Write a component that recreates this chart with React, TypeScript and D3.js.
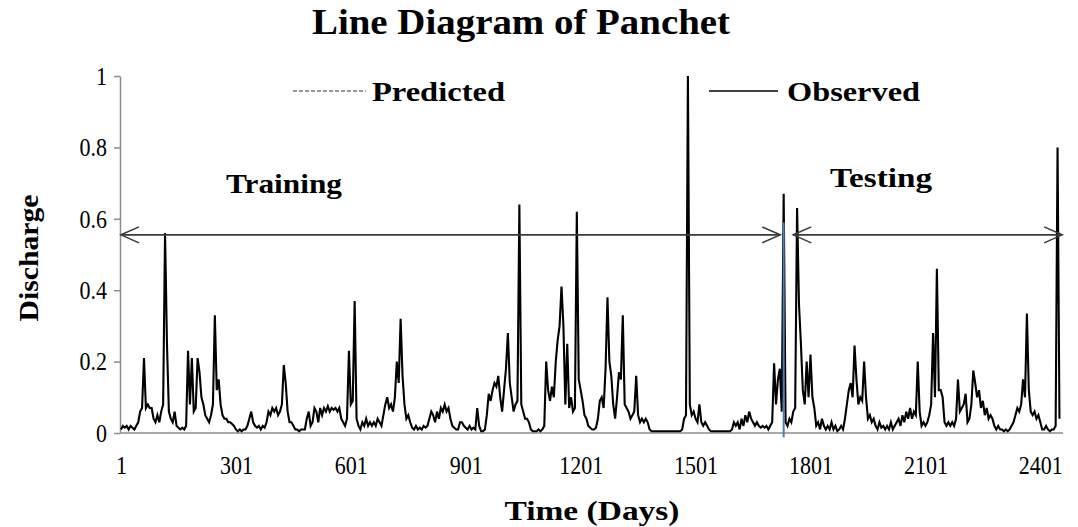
import React, { useEffect, useRef } from 'react';
import * as d3 from 'd3';

// observed discharge, one value every 5 days starting at day 1
const dayStep = 5;
const firstDay = 1;
const observed = [
	0.01, 0.02, 0.015, 0.02, 0.01, 0.02, 0.015, 0.01, 0.02, 0.03, 0.06, 0.07, 0.21, 0.07, 0.08, 0.07, 0.07, 0.04, 0.03, 0.05,
	0.03, 0.06, 0.08, 0.56, 0.25, 0.06, 0.04, 0.03, 0.06, 0.02, 0.015, 0.01, 0.015, 0.01, 0.02, 0.23, 0.08, 0.21, 0.06, 0.07,
	0.21, 0.17, 0.1, 0.08, 0.05, 0.04, 0.03, 0.05, 0.08, 0.33, 0.12, 0.15, 0.08, 0.05, 0.04, 0.04, 0.03, 0.03, 0.025, 0.02,
	0.01, 0.005, 0.01, 0.005, 0.01, 0.01, 0.02, 0.04, 0.06, 0.03, 0.02, 0.015, 0.02, 0.01, 0.02, 0.015, 0.03, 0.06, 0.05, 0.07,
	0.06, 0.07, 0.05, 0.06, 0.08, 0.19, 0.14, 0.06, 0.03, 0.03, 0.02, 0.01, 0.01, 0.005, 0.01, 0.01, 0.01, 0.04, 0.06, 0.02,
	0.03, 0.07, 0.06, 0.03, 0.07, 0.05, 0.07, 0.06, 0.075, 0.06, 0.07, 0.065, 0.07, 0.06, 0.07, 0.04, 0.03, 0.02, 0.04, 0.23,
	0.08, 0.09, 0.37, 0.04, 0.02, 0.01, 0.03, 0.02, 0.04, 0.02, 0.03, 0.02, 0.03, 0.02, 0.04, 0.03, 0.02, 0.05, 0.08, 0.1,
	0.07, 0.08, 0.06, 0.1, 0.2, 0.14, 0.32, 0.16, 0.08, 0.04, 0.05, 0.03, 0.015, 0.01, 0.02, 0.01, 0.015, 0.01, 0.02, 0.015,
	0.02, 0.04, 0.06, 0.05, 0.03, 0.06, 0.04, 0.07, 0.06, 0.08, 0.06, 0.07, 0.04, 0.02, 0.015, 0.01, 0.01, 0.03, 0.03, 0.02,
	0.015, 0.01, 0.02, 0.01, 0.015, 0.01, 0.07, 0.02, 0.005, 0.005, 0.01, 0.05, 0.11, 0.09, 0.12, 0.14, 0.13, 0.16, 0.1, 0.06,
	0.12, 0.18, 0.28, 0.14, 0.1, 0.06, 0.08, 0.09, 0.64, 0.08, 0.06, 0.04, 0.04, 0.03, 0.01, 0.005, 0.005, 0.005, 0.01, 0.005,
	0.01, 0.02, 0.2, 0.12, 0.09, 0.13, 0.1, 0.2, 0.26, 0.3, 0.41, 0.3, 0.08, 0.25, 0.07, 0.1, 0.06, 0.07, 0.62, 0.15,
	0.12, 0.09, 0.05, 0.04, 0.02, 0.015, 0.01, 0.01, 0.015, 0.04, 0.09, 0.1, 0.07, 0.18, 0.38, 0.2, 0.16, 0.08, 0.04, 0.1,
	0.17, 0.15, 0.33, 0.08, 0.07, 0.06, 0.04, 0.05, 0.06, 0.16, 0.05, 0.03, 0.04, 0.03, 0.04, 0.03, 0.01, 0.005, 0.005, 0.005,
	0.005, 0.005, 0.005, 0.005, 0.005, 0.005, 0.005, 0.005, 0.005, 0.005, 0.005, 0.005, 0.005, 0.01, 0.04, 0.05, 1.0, 0.08, 0.05, 0.06,
	0.04, 0.03, 0.08, 0.03, 0.02, 0.03, 0.02, 0.01, 0.005, 0.005, 0.005, 0.005, 0.005, 0.005, 0.005, 0.005, 0.005, 0.005, 0.005, 0.01,
	0.03, 0.02, 0.03, 0.01, 0.04, 0.02, 0.05, 0.03, 0.06, 0.04, 0.03, 0.02, 0.03, 0.02, 0.015, 0.02, 0.015, 0.02, 0.01, 0.02,
	0.03, 0.195, 0.08, 0.15, 0.18, 0.06, 0.67, 0.03, 0.02, 0.04, 0.03, 0.06, 0.07, 0.63, 0.36, 0.25, 0.12, 0.08, 0.2, 0.1,
	0.22, 0.1, 0.07, 0.02, 0.03, 0.01, 0.04, 0.02, 0.01, 0.02, 0.01, 0.03, 0.01, 0.02, 0.005, 0.01, 0.02, 0.01, 0.04, 0.08,
	0.12, 0.14, 0.1, 0.245, 0.15, 0.08, 0.1, 0.09, 0.2, 0.1, 0.04, 0.05, 0.03, 0.04, 0.02, 0.01, 0.03, 0.015, 0.02, 0.01,
	0.02, 0.01, 0.03, 0.01, 0.02, 0.03, 0.04, 0.02, 0.05, 0.03, 0.06, 0.04, 0.07, 0.04, 0.06, 0.05, 0.2, 0.06, 0.02, 0.03,
	0.02, 0.03, 0.05, 0.08, 0.28, 0.1, 0.46, 0.12, 0.12, 0.1, 0.03, 0.02, 0.03, 0.02, 0.03, 0.02, 0.04, 0.15, 0.06, 0.07,
	0.08, 0.11, 0.03, 0.04, 0.08, 0.175, 0.14, 0.1, 0.12, 0.07, 0.09, 0.05, 0.07, 0.04, 0.05, 0.04, 0.02, 0.01, 0.02, 0.01,
	0.01, 0.005, 0.01, 0.005, 0.01, 0.02, 0.03, 0.05, 0.07, 0.06, 0.08, 0.15, 0.1, 0.335, 0.12, 0.06, 0.05, 0.06, 0.04, 0.05,
	0.03, 0.01, 0.01, 0.02, 0.01, 0.005, 0.01, 0.01, 0.02, 0.8, 0.04,
];

const xTickDays = [1, 301, 601, 901, 1201, 1501, 1801, 2101, 2401];
const yTickValues = [0, 0.2, 0.4, 0.6, 0.8, 1];
const legendNames = ['Predicted', 'Observed'];
const phaseNames = ['Training', 'Testing'];
const trainingSpan = [1, 1722];
const testingSpan = [1756, 2458];
const splitDay = 1731;

const config = {
	width: 1078,
	height: 527,
	dayDomain: [1, 2455],
	left: 121,
	right: 1061,
	top: 76,
	bottom: 433,
	font: 'Liberation Serif, Times New Roman, serif',
};

// width of a number label in the squeezed Times face of the source
const numberWidth = (s) => s.split('').reduce((w, c) => w + (c === '.' ? 5.5 : 11), 0);

const arrow = (g, x0, x1, y) => {
	const head = 18;
	const half = 8;
	const stroke = '#3a3a3a';

	g.append('line').attr('x1', x0).attr('x2', x1)
		.attr('y1', y).attr('y2', y)
		.attr('stroke', stroke).attr('stroke-width', 1.6);
	g.append('polyline')
		.attr('points', `${ x0 + head },${ y - half } ${ x0 },${ y } ${ x0 + head },${ y + half }`)
		.attr('fill', 'none').attr('stroke', stroke).attr('stroke-width', 1.6);
	g.append('polyline')
		.attr('points', `${ x1 - head },${ y - half } ${ x1 },${ y } ${ x1 - head },${ y + half }`)
		.attr('fill', 'none').attr('stroke', stroke).attr('stroke-width', 1.6);
};

const styleTicks = (axis, font) => {
	axis.attr('font-family', font).attr('font-size', 26);
	axis.selectAll('.tick text')
		.attr('font-family', font)
		.attr('fill', '#000')
		.attr('textLength', (d) => numberWidth(String(d)))
		.attr('lengthAdjust', 'spacingAndGlyphs');
};

const lineChart = (ref) => {
	const { width, height, dayDomain, left, right, top, bottom, font } = config;
	const svg = d3.select(ref.current);

	svg.selectAll('*').remove();
	svg.attr('width', width).attr('height', height)
		.attr('font-family', font);

	const x = d3.scaleLinear().domain(dayDomain).range([left, right]);
	const y = d3.scaleLinear().domain([0, 1]).range([bottom, top]);
	const data = observed.map((v, i) => ({ day: firstDay + i * dayStep, v }));

	// axes
	const yAxis = svg.append('g').attr('transform', `translate(${ left - 1 },0)`)
		.call(d3.axisLeft(y).tickValues(yTickValues)
			.tickFormat((d) => String(d))
			.tickSize(6)
			.tickSizeOuter(0)
			.tickPadding(7));
	styleTicks(yAxis, font);
	yAxis.select('.domain').attr('stroke', '#8c8c8c').attr('stroke-width', 1.5);
	yAxis.selectAll('.tick line').attr('stroke', '#8c8c8c').attr('stroke-width', 1.5);

	const xAxis = svg.append('g').attr('transform', `translate(0,${ bottom })`)
		.call(d3.axisBottom(x).tickValues(xTickDays)
			.tickFormat((d) => String(d))
			.tickSize(0)
			.tickPadding(23));
	styleTicks(xAxis, font);
	xAxis.select('.domain').attr('d', `M${ left - 1 },0H${ right + 2 }`)
		.attr('stroke', '#8c8c8c').attr('stroke-width', 1.5);

	// series
	svg.append('path').datum(data)
		.attr('fill', 'none')
		.attr('stroke', '#000')
		.attr('stroke-width', 2.1)
		.attr('stroke-linejoin', 'miter')
		.attr('d', d3.line().x((d) => x(d.day)).y((d) => y(d.v)));

	// training / testing split
	svg.append('line')
		.attr('x1', x(splitDay)).attr('x2', x(splitDay))
		.attr('y1', y(0.59)).attr('y2', y(-0.012))
		.attr('stroke', '#4a7ebb').attr('stroke-width', 2);

	const arrowY = y(0.555);
	arrow(svg, x(trainingSpan[0]), x(trainingSpan[1]), arrowY);
	arrow(svg, x(testingSpan[0]), x(testingSpan[1]), arrowY);

	const bold = (tx, ty, text, size, len, anchor = 'middle') => svg.append('text')
		.attr('x', tx).attr('y', ty)
		.attr('text-anchor', anchor)
		.attr('font-size', size)
		.attr('font-weight', 'bold')
		.attr('textLength', len)
		.attr('lengthAdjust', 'spacingAndGlyphs')
		.attr('fill', '#000')
		.text(text);

	bold(284, 193, phaseNames[0], 27, 116);
	bold(881, 187, phaseNames[1], 27, 102);

	// legend
	svg.append('line').attr('x1', 293).attr('x2', 366)
		.attr('y1', 91).attr('y2', 91)
		.attr('stroke', '#333').attr('stroke-width', 1.2)
		.attr('stroke-dasharray', '4,2');
	bold(372, 101, legendNames[0], 28, 133, 'start');
	svg.append('line').attr('x1', 709).attr('x2', 778)
		.attr('y1', 91).attr('y2', 91)
		.attr('stroke', '#000').attr('stroke-width', 1.6);
	bold(787, 101, legendNames[1], 28, 133, 'start');

	// titles
	bold(521, 34, 'Line Diagram of Panchet', 35, 418);
	bold(592, 520, 'Time (Days)', 28, 175);
	bold(0, 0, 'Discharge', 27, 127)
		.attr('transform', `translate(38,258) rotate(-90)`);
};

const App = () => {
	const ref = useRef(null);

	useEffect(() => lineChart(ref));

	return (
		<svg ref={ ref } style={ { position: 'absolute', left: 0, top: 0, background: '#fff' } }/>
	);
};

export default App;
